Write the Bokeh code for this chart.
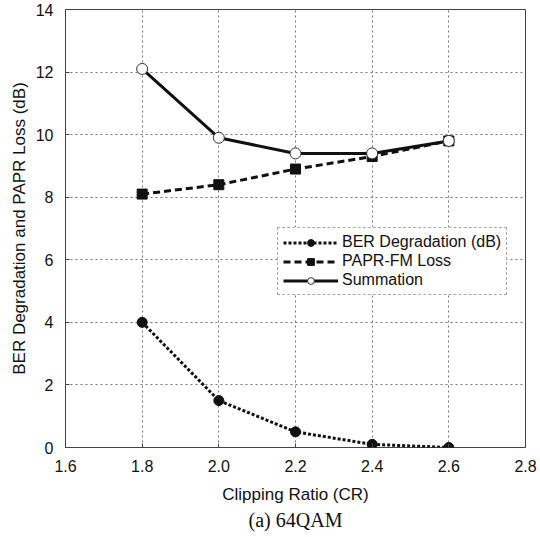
from bokeh.plotting import figure
from bokeh.models import Range1d, FixedTicker, Title, Legend
from bokeh.embed import file_html
from bokeh.resources import INLINE

cr = [1.8, 2.0, 2.2, 2.4, 2.6]
ber_degradation = [4.0, 1.5, 0.5, 0.1, 0.0]
papr_fm_loss = [8.1, 8.4, 8.9, 9.3, 9.8]
summation = [12.1, 9.9, 9.4, 9.4, 9.8]
x_ticks = [1.6, 1.8, 2.0, 2.2, 2.4, 2.6, 2.8]
y_ticks = [0, 2, 4, 6, 8, 10, 12, 14]

FONT = "Liberation Sans"

p = figure(width=540, height=537, output_backend="svg", toolbar_location=None,
           x_range=Range1d(1.6, 2.8), y_range=Range1d(0, 14),
           min_border_left=65, min_border_right=15, min_border_top=9, min_border_bottom=90)
p.background_fill_color = "white"
p.border_fill_color = "white"
p.outline_line_color = "#444444"
p.outline_line_width = 1

p.xaxis.ticker = FixedTicker(ticks=x_ticks)
p.yaxis.ticker = FixedTicker(ticks=y_ticks)
p.xaxis.major_label_overrides = {t: f"{t:.1f}" for t in x_ticks}
for ax in (p.xaxis, p.yaxis):
    ax.axis_line_color = None
    ax.major_tick_in = 4
    ax.major_tick_out = 0
    ax.major_tick_line_color = "#444444"
    ax.minor_tick_line_color = None
    ax.major_label_text_font = FONT
    ax.major_label_text_font_size = "16px"
    ax.major_label_text_color = "#111111"
    ax.axis_label_text_font = FONT
    ax.axis_label_text_font_size = "17px"
    ax.axis_label_text_font_style = "normal"
    ax.axis_label_text_color = "#111111"
p.xaxis.axis_label = "Clipping Ratio (CR)"
p.yaxis.axis_label = "BER Degradation and PAPR Loss (dB)"
p.xaxis.major_label_standoff = 12
p.yaxis.major_label_standoff = 12
p.xaxis.axis_label_standoff = 10
p.yaxis.axis_label_standoff = 4

for g in (p.xgrid, p.ygrid):
    g.grid_line_color = "#777777"
    g.grid_line_dash = "2 3"
    g.grid_line_width = 1

caption = Title(text="(a) 64QAM", align="center", text_font="Liberation Serif",
                text_font_size="20px", text_font_style="normal", text_color="#111111",
                standoff=1)
p.add_layout(caption, "below")

l1 = p.line(cr, ber_degradation, line_color="#111111", line_width=3, line_dash="3 2")
m1 = p.scatter(cr, ber_degradation, marker="circle", size=10, fill_color="#111111", line_color="#111111")
l2 = p.line(cr, papr_fm_loss, line_color="#111111", line_width=3, line_dash="7 4")
m2 = p.scatter(cr, papr_fm_loss, marker="square", size=10, fill_color="#111111", line_color="#111111")
l3 = p.line(cr, summation, line_color="#111111", line_width=3)
m3 = p.scatter(cr, summation, marker="circle", size=11, fill_color="white", line_color="#333333")

legend = Legend(items=[("BER Degradation (dB)", [l1, m1]),
                       ("PAPR-FM Loss", [l2, m2]),
                       ("Summation", [l3, m3])],
                location=(212, 152))
legend.label_text_font = FONT
legend.label_text_font_size = "16px"
legend.label_text_color = "#111111"
legend.border_line_color = "#555555"
legend.border_line_dash = "2 2"
legend.border_line_width = 1
legend.glyph_width = 55
legend.glyph_height = 17
legend.label_height = 17
legend.spacing = 1
legend.padding = 5
legend.margin = 0
legend.label_standoff = 4
legend.background_fill_alpha = 1
p.add_layout(legend, "center")

open("out.html", "w").write(file_html(p, INLINE))
